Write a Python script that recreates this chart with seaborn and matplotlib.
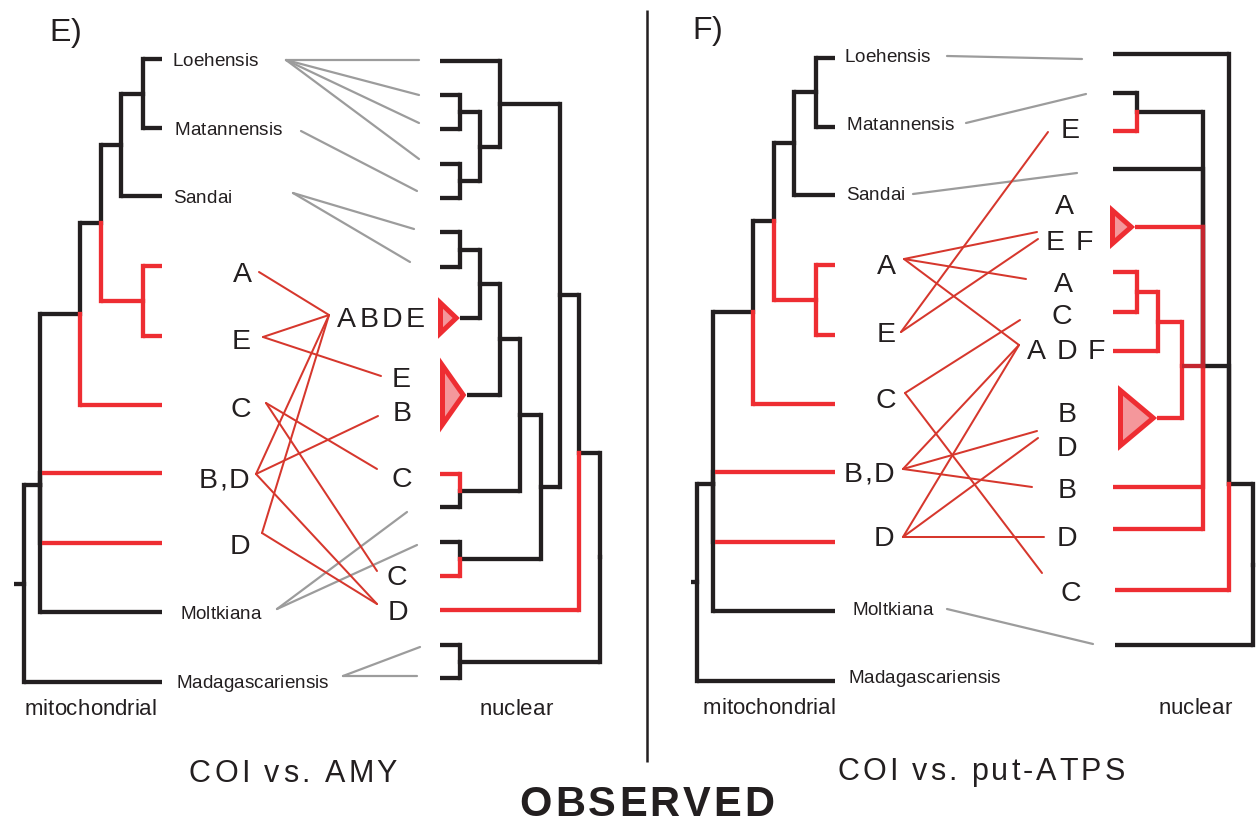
import numpy as np
import pandas as pd
import matplotlib
matplotlib.use("Agg")
import matplotlib.pyplot as plt
import seaborn as sns
from matplotlib.patches import Polygon
from matplotlib.font_manager import FontProperties, findfont, get_font

# ===================== DATA =====================
# Mitochondrial (COI) tree - same topology in panels E and F
mito_leaf_id = ["M0", "M1", "M2", "M3", "M4", "M5", "M6", "M7", "M8", "M9"]
mito_leaf_name = ["Loehensis", "Matannensis", "Sandai", "", "", "", "", "", "Moltkiana", "Madagascariensis"]
mito_leaf_y = [59, 128, 196, 266, 336, 405, 473, 543, 612, 682]
mito_leaf_col = ["k", "k", "k", "r", "r", "r", "r", "r", "k", "k"]
mito_tip_x = 162
mito_nodes = [  # name, depth, children, colour, fixed y
    ("m1", 143, ["M0", "M1"], "k", None),
    ("m2", 121, ["m1", "M2"], "k", None),
    ("m3", 143, ["M3", "M4"], "r", None),
    ("m4", 101, ["m2", "m3"], "k", None),
    ("m5", 80, ["m4", "M5"], "k", None),
    ("m6", 40, ["m5", "M6", "M7", "M8"], "k", None),
    ("m7", 24, ["m6", "M9"], "k", None),
]
mito_edge_override = {("m6", "M6"): ("k", "r"), ("m6", "M7"): ("k", "r")}

# label x positions / y positions for species names
e_name_x = [172, 175, 173, 0, 0, 0, 0, 0, 180, 176]
e_name_y = [59, 128, 196, 0, 0, 0, 0, 0, 612, 681]
f_name_x = [844, 847, 846, 0, 0, 0, 0, 0, 852, 848]
f_name_y = [55, 123, 193, 0, 0, 0, 0, 0, 608, 676]

# Nuclear AMY tree (panel E)
amy_leaf_id = ["e0", "e1", "e2", "e3", "e4", "e5", "e6", "t1", "t2", "e7", "e8", "e9", "e10", "e11", "e12", "e13"]
amy_leaf_x = [440, 440, 440, 440, 440, 440, 440, 460, 467, 440, 440, 440, 440, 440, 440, 440]
amy_leaf_y = [61, 95, 129, 164, 198, 232, 267, 318, 395, 474, 507, 542, 576, 610, 645, 678]
amy_leaf_col = ["k", "k", "k", "k", "k", "k", "k", "k", "k", "r", "k", "k", "r", "r", "k", "k"]
amy_nodes = [
    ("n1", 460, ["e1", "e2"], "k", None),
    ("n2", 460, ["e3", "e4"], "k", None),
    ("n3", 480, ["n1", "n2"], "k", None),
    ("n4", 500, ["e0", "n3"], "k", None),
    ("n5", 460, ["e5", "e6"], "k", None),
    ("n6", 480, ["n5", "t1"], "k", None),
    ("n7", 500, ["n6", "t2"], "k", None),
    ("n8", 460, ["e7", "e8"], "k", None),
    ("n9", 520, ["n7", "n8"], "k", None),
    ("n10", 460, ["e9", "e10"], "k", None),
    ("n11", 541, ["n9", "n10"], "k", None),
    ("n12", 560, ["n4", "n11"], "k", None),
    ("n13", 579, ["n12", "e11"], "k", None),
    ("n14", 460, ["e12", "e13"], "k", None),
    ("n15", 600, ["n13", "n14"], "k", None),
]
amy_triangles = [(460, 318, 438, 18.5), (467, 395, 440, 33)]  # tip x, y, base x, half height

# Nuclear put-ATPS tree (panel F)
atp_leaf_id = ["f0", "f1", "f2", "f3", "T1", "f4", "f5", "f6", "T2", "f7", "f8", "f9", "f10"]
atp_leaf_x = [1113, 1113, 1113, 1113, 1135, 1113, 1113, 1113, 1157, 1113, 1113, 1115, 1115]
atp_leaf_y = [54, 93, 131, 169, 227, 272, 312, 351, 418, 487, 529, 590, 645]
atp_leaf_col = ["k", "k", "r", "k", "r", "r", "r", "r", "r", "r", "r", "r", "k"]
atp_nodes = [
    ("g1", 1137, ["f1", "f2"], "k", None),
    ("g2", 1137, ["f4", "f5"], "r", None),
    ("g3", 1158, ["g2", "f6"], "r", None),
    ("g4", 1182, ["g3", "T2"], "d", 366),
    ("g5", 1203, ["g1", "f3", "T1", "g4", "f7", "f8"], "k", 366),
    ("g6", 1229, ["f0", "g5", "f9"], "k", 484),
    ("g7", 1253, ["g6", "f10"], "k", None),
]
atp_edge_override = {("g5", "T1"): ("d", "r")}
atp_triangles = [(1135, 227, 1110, 20), (1157, 418, 1118, 31)]

# Association lines, panel E (gray: species, red: haplotype clades)
e_gray_x0 = [286, 286, 286, 286, 301, 293, 293, 277, 277, 343, 343]
e_gray_y0 = [60, 60, 60, 60, 131, 193, 193, 609, 609, 676, 676]
e_gray_x1 = [419, 419, 419, 419, 417, 414, 410, 407, 417, 420, 417]
e_gray_y1 = [60, 95, 123, 159, 191, 229, 262, 512, 545, 647, 676]
e_red_x0 = [259, 263, 263, 266, 266, 256, 256, 256, 262, 262]
e_red_y0 = [272, 337, 337, 403, 403, 474, 474, 474, 533, 533]
e_red_x1 = [329, 329, 381, 377, 377, 329, 378, 377, 329, 377]
e_red_y1 = [315, 315, 376, 469, 571, 315, 416, 604, 315, 604]

# Association lines, panel F
f_gray_x0 = [947, 966, 913, 947]
f_gray_y0 = [56, 123, 194, 609]
f_gray_x1 = [1082, 1086, 1077, 1093]
f_gray_y1 = [59, 94, 173, 644]
f_red_x0 = [904, 904, 904, 901, 901, 905, 905, 903, 903, 903, 903, 903, 903]
f_red_y0 = [259, 259, 259, 332, 332, 393, 393, 469, 469, 469, 537, 537, 537]
f_red_x1 = [1037, 1026, 1019, 1048, 1038, 1020, 1042, 1019, 1037, 1032, 1019, 1038, 1044]
f_red_y1 = [232, 279, 345, 132, 239, 320, 573, 345, 431, 487, 345, 438, 537]

# Haplotype clade letters
e_left_txt = ["A", "E", "C", "B,D", "D"]
e_left_cx = [242, 241, 241, 224, 240]
e_left_cy = [272, 339, 407, 478, 544]
e_right_txt = ["ABDE", "E", "B", "C", "C", "D"]
e_right_cx = [381, 401, 402, 402, 397, 398]
e_right_cy = [317, 377, 411, 477, 575, 610]
f_left_txt = ["A", "E", "C", "B,D", "D"]
f_left_cx = [886, 886, 886, 869, 884]
f_left_cy = [264, 332, 398, 472, 536]
f_right_txt = ["E", "A", "E F", "A", "C", "A D F", "B", "D", "B", "D", "C"]
f_right_cx = [1070, 1064, 1069, 1063, 1062, 1066, 1067, 1067, 1067, 1067, 1071]
f_right_cy = [128, 204, 240, 282, 314, 349, 412, 446, 488, 536, 591]

# ===================== STYLE =====================
sns.set_theme(style="white")
plt.rcParams['font.family'] = ['Liberation Sans', 'DejaVu Sans']

W, H, DPI = 1256, 823, 100
BLACK = "#231F20"
RED = "#EE2D32"
DARK = "#C4262F"
LINK = "#D6372D"
GRAY = "#9C9C9C"
PINK = "#F4979B"
COL = {"k": BLACK, "r": RED, "d": DARK}
ZO = {"k": 2, "r": 3, "d": 4}
TREE_LW = 3.1
TRI_LW = 3.6
LW_PX = TREE_LW * DPI / 72.0

fig = plt.figure(figsize=(W / DPI, H / DPI), dpi=DPI)
fig.patch.set_facecolor("white")
ax = fig.add_axes([0, 0, 1, 1])
ax.set_facecolor("white")


def draw_tree(ax, leaf_id, leaf_x, leaf_y, leaf_col, nodes, overrides, dx=0.0, dy=0.0, stub=None):
    pos = {}
    for n, x, y, c in zip(leaf_id, leaf_x, leaf_y, leaf_col):
        pos[n] = (x + dx, y + dy, c)
    for name, x, kids, c, yfix in nodes:
        ys = [pos[k][1] for k in kids]
        y = (yfix + dy) if yfix is not None else float(np.mean(ys))
        nx = x + dx
        pos[name] = (nx, y, c)
        for k in kids:
            kx, ky, kc = pos[k]
            vc, hc = overrides.get((name, k), (kc, kc))
            ax.plot([nx, nx], [y, ky], color=COL[vc], lw=TREE_LW,
                    solid_capstyle='projecting', zorder=ZO[vc])
            hx0 = nx + (LW_PX / 2 if hc != vc else 0)
            ax.plot([hx0, kx], [ky, ky], color=COL[hc], lw=TREE_LW,
                    solid_capstyle='butt', zorder=ZO[hc])
    if stub is not None:
        rx, ry, rc = pos[nodes[-1][0]]
        ax.plot([rx - stub, rx], [ry, ry], color=COL[rc], lw=TREE_LW,
                solid_capstyle='butt', zorder=2)
    return pos


def draw_triangles(ax, tris):
    inset = TRI_LW * DPI / 72.0 / 2
    for tx, ty, bx, hh in tris:
        pts = [(bx + inset, ty - hh + inset * 1.4), (bx + inset, ty + hh - inset * 1.4), (tx - inset * 1.5, ty)]
        ax.add_patch(Polygon(pts, closed=True, facecolor=PINK, edgecolor=RED,
                             lw=TRI_LW, joinstyle='miter', zorder=6))


def links(ax, x0, y0, x1, y1, color, lw):
    rows = []
    for i, (a, b, c, d) in enumerate(zip(x0, y0, x1, y1)):
        rows.append({"seg": i, "order": 0, "x": a, "y": b})
        rows.append({"seg": i, "order": 1, "x": c, "y": d})
    df = pd.DataFrame(rows)
    sns.lineplot(data=df, x="x", y="y", units="seg", estimator=None, sort=False,
                 color=color, lw=lw, ax=ax, legend=False, zorder=5)


def tracked(ax, cx, cy, s, size, track=0.0, weight='normal', ha='center', color=BLACK):
    fp = FontProperties(family='Liberation Sans', size=size, weight=weight)
    font = get_font(findfont(fp))
    font.set_size(size, DPI)
    adv = [font.load_char(ord(ch)).linearHoriAdvance / 65536.0 for ch in s]
    total = sum(adv) + track * (len(s) - 1)
    x = cx - total / 2.0 if ha == 'center' else cx
    base = cy + 0.69 * size * DPI / 72.0 / 2.0
    for ch, a in zip(s, adv):
        if ch != ' ':
            ax.text(x, base, ch, fontproperties=fp, color=color, ha='left', va='baseline', zorder=7)
        x += a + track


# ----- trees -----
draw_tree(ax, mito_leaf_id, [mito_tip_x] * 10, mito_leaf_y, mito_leaf_col, mito_nodes,
          mito_edge_override, stub=10)
draw_tree(ax, mito_leaf_id, [mito_tip_x] * 10, mito_leaf_y, mito_leaf_col, mito_nodes,
          mito_edge_override, dx=673, dy=-1.5, stub=6)
draw_tree(ax, amy_leaf_id, amy_leaf_x, amy_leaf_y, amy_leaf_col, amy_nodes, {})
draw_tree(ax, atp_leaf_id, atp_leaf_x, atp_leaf_y, atp_leaf_col, atp_nodes, atp_edge_override)
draw_triangles(ax, amy_triangles)
draw_triangles(ax, atp_triangles)

# ----- association lines -----
links(ax, e_gray_x0, e_gray_y0, e_gray_x1, e_gray_y1, GRAY, 1.6)
links(ax, f_gray_x0, f_gray_y0, f_gray_x1, f_gray_y1, GRAY, 1.6)
links(ax, e_red_x0, e_red_y0, e_red_x1, e_red_y1, LINK, 1.45)
links(ax, f_red_x0, f_red_y0, f_red_x1, f_red_y1, LINK, 1.45)

# ----- species names -----
for nm, x, y in zip(mito_leaf_name, e_name_x, e_name_y):
    if nm:
        tracked(ax, x, y, nm, 13.6, ha='left')
for nm, x, y in zip(mito_leaf_name, f_name_x, f_name_y):
    if nm:
        tracked(ax, x, y, nm, 13.6, ha='left')

# ----- clade letters -----
def track_for(s):
    return {"ABDE": 3.2, "B,D": 1.5}.get(s, 1.5)

for txts, xs, ys in [(e_left_txt, e_left_cx, e_left_cy), (e_right_txt, e_right_cx, e_right_cy),
                     (f_left_txt, f_left_cx, f_left_cy), (f_right_txt, f_right_cx, f_right_cy)]:
    for s, x, y in zip(txts, xs, ys):
        tracked(ax, x, y, s, 20.5, track=track_for(s))

# ----- panel labels and captions -----
tracked(ax, 49, 30, "E)", 23, ha='left')
tracked(ax, 692, 28, "F)", 23, ha='left')
tracked(ax, 90.5, 707, "mitochondrial", 16)
tracked(ax, 516, 707, "nuclear", 16)
tracked(ax, 769, 706, "mitochondrial", 16)
tracked(ax, 1195, 706, "nuclear", 16)
tracked(ax, 293, 771, "COI vs. AMY", 22, track=3.2)
tracked(ax, 981, 769, "COI vs. put-ATPS", 22, track=3.0)
tracked(ax, 647, 802, "OBSERVED", 30, track=3.0, weight='bold')

# divider
ax.plot([647, 647], [10, 762], color=BLACK, lw=1.8, solid_capstyle='butt', zorder=2)

ax.set_xlim(0, W)
ax.set_ylim(H, 0)
ax.axis('off')
fig.savefig("out.png", dpi=DPI, facecolor="white")
